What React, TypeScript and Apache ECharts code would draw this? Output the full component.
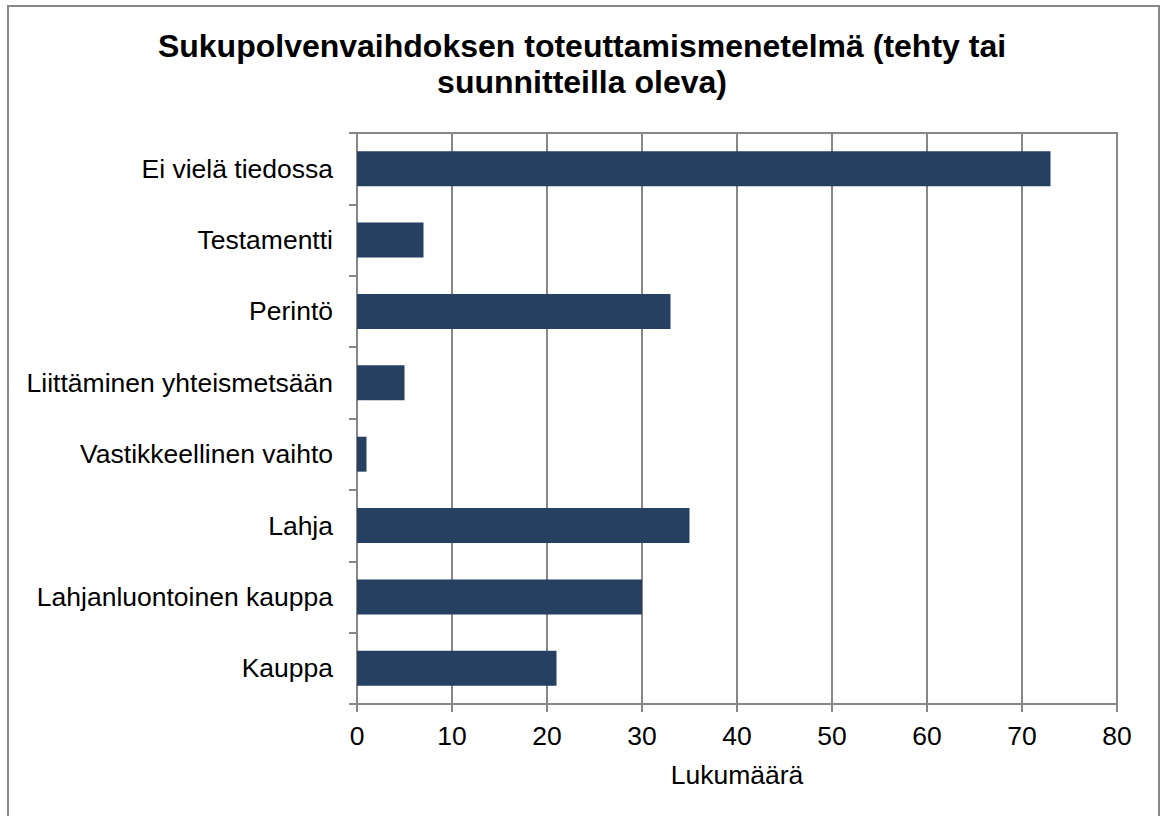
import React, { useEffect, useRef } from "react";
import * as echarts from "echarts";

const titleText = "Sukupolvenvaihdoksen toteuttamismenetelmä (tehty tai\nsuunnitteilla oleva)";
const categories = [
  "Ei vielä tiedossa",
  "Testamentti",
  "Perintö",
  "Liittäminen yhteismetsään",
  "Vastikkeellinen vaihto",
  "Lahja",
  "Lahjanluontoinen kauppa",
  "Kauppa",
];
const values = [73, 7, 33, 5, 1, 35, 30, 21];
const axisName = "Lukumäärä";
const xMin = 0;
const xMax = 80;
const xInterval = 10;

const FONT = "'Liberation Sans', Arial, sans-serif";
const GREY = "#878787";
const BAR = "#254061";

export default function App() {
  const ref = useRef<HTMLDivElement>(null);
  useEffect(() => {
    if (!ref.current) return;
    const chart = echarts.init(ref.current, undefined, { renderer: "svg" });
    chart.setOption({
      animation: false,
      backgroundColor: "#ffffff",
      textStyle: { fontFamily: FONT },
      title: {
        text: titleText,
        left: "center",
        top: 23,
        textStyle: {
          fontFamily: FONT,
          fontSize: 32,
          fontWeight: "bold",
          color: "#000",
          lineHeight: 36,
          align: "center",
        },
      },
      graphic: [
        {
          type: "rect",
          shape: { x: 8, y: 6, width: 1151, height: 830 },
          style: { fill: "none", stroke: GREY, lineWidth: 2 },
          silent: true,
          z: -1,
        },
      ],
      grid: {
        left: 357,
        right: 47,
        top: 133,
        bottom: 112,
        show: true,
        borderColor: GREY,
        borderWidth: 2,
      },
      xAxis: {
        type: "value",
        min: xMin,
        max: xMax,
        interval: xInterval,
        name: axisName,
        nameLocation: "middle",
        nameGap: 57,
        nameTextStyle: { fontFamily: FONT, fontSize: 26.5, color: "#000" },
        axisLine: { show: true, lineStyle: { color: GREY, width: 2 } },
        axisTick: { show: true, length: 8, lineStyle: { color: GREY, width: 2 } },
        axisLabel: { fontFamily: FONT, fontSize: 26.5, color: "#000", margin: 18 },
        splitLine: { show: true, lineStyle: { color: GREY, width: 2 } },
      },
      yAxis: {
        type: "category",
        data: categories,
        inverse: true,
        axisLine: { show: true, lineStyle: { color: GREY, width: 2 } },
        axisTick: { show: true, length: 8, alignWithLabel: false, lineStyle: { color: GREY, width: 2 } },
        axisLabel: { fontFamily: FONT, fontSize: 26.5, color: "#000", margin: 24 },
        splitLine: { show: false },
      },
      series: [
        {
          type: "bar",
          data: values,
          barWidth: "49%",
          itemStyle: { color: BAR },
        },
      ],
    });
    return () => chart.dispose();
  }, []);
  return (
    <div
      ref={ref}
      style={{ position: "fixed", left: 0, top: 0, width: 1164, height: 816 }}
    />
  );
}
